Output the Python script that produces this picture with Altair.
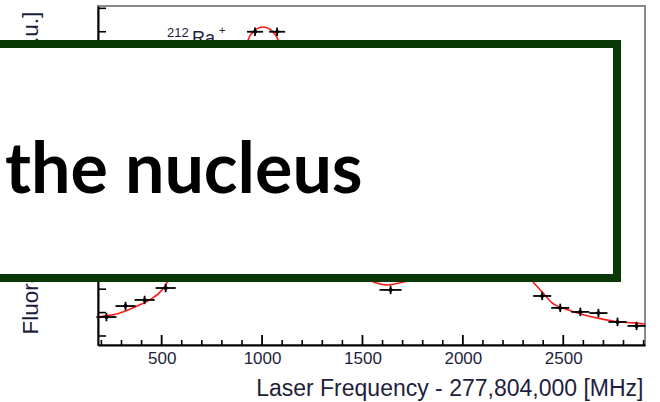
import altair as alt
import pandas as pd

# Measured resonance points (laser frequency offset in MHz, fluorescence in a.u.)
freq = [225, 320, 415, 520, 965, 1075, 1640, 2395, 2485, 2585, 2675, 2770, 2865]
fluor = [0.81, 1.28, 1.54, 2.05, 13.0, 13.0, 1.97, 1.71, 1.20, 1.03, 0.98, 0.60, 0.43]
freq_err = [50, 50, 50, 50, 40, 40, 55, 45, 45, 45, 45, 45, 45]
fluor_err = [0.18, 0.18, 0.18, 0.18, 0.18, 0.18, 0.18, 0.18, 0.18, 0.18, 0.18, 0.18, 0.18]

# Fitted line shape
fit_freq = [183, 190, 275, 355, 440, 505, 525, 600, 700, 800, 900, 930, 970, 1005,
            1040, 1080, 1150, 1250, 1350, 1450, 1555, 1625, 1705, 1800, 1900, 2000,
            2080, 2130, 2180, 2250, 2300, 2350, 2395, 2440, 2525, 2605, 2690, 2775,
            2855, 2907]
fit_fluor = [0.79, 0.81, 0.94, 1.2, 1.54, 2.0, 2.26, 3.0, 4.4, 7.0, 10.8, 12.65, 13.1, 13.2,
             13.1, 12.65, 9.5, 5.6, 3.6, 2.7, 2.31, 2.18, 2.31, 2.5, 3.0, 3.7,
             4.3, 4.5, 4.3, 3.6, 2.9, 2.31, 1.88, 1.45, 1.11, 0.90, 0.73, 0.60,
             0.56, 0.51]

x_major = [500, 1000, 1500, 2000, 2500]
x_minor = [v for v in range(200, 3000, 100) if v % 500 != 0]
y_ticks = list(range(0, 15))

FONT = "Liberation Sans"
TEXT_COLOR = "#1e1e3c"

xs = alt.Scale(domain=[183, 2907], nice=False, zero=False)
ys = alt.Scale(domain=[-0.385, 14.10], nice=False, zero=False)

pts = pd.DataFrame({"f": freq, "v": fluor, "fe": freq_err, "ve": fluor_err})
pts["f_lo"] = pts["f"] - pts["fe"]
pts["f_hi"] = pts["f"] + pts["fe"]
pts["v_lo"] = pts["v"] - pts["ve"]
pts["v_hi"] = pts["v"] + pts["ve"]
fit = pd.DataFrame({"f": fit_freq, "v": fit_fluor})

x_axis = alt.Axis(
    values=x_major, format="d", ticks=False, grid=False, labelFontSize=17, labelFont=FONT,
    labelColor=TEXT_COLOR, labelPadding=5, domainColor="black", domainWidth=2,
    title="Laser Frequency - 277,804,000 [MHz]", titleFont=FONT, titleFontSize=23,
    titleFontWeight="normal", titleColor=TEXT_COLOR, titleX=545, titleY=50,
    titleAlign="right", titleBaseline="alphabetic",
)
y_axis = alt.Axis(
    labels=False, ticks=False, grid=False, domainColor="black", domainWidth=2,
    title="Fluorescence Photon Rate [a.u.]", titleFont=FONT, titleFontSize=22.5,
    titleFontWeight="normal", titleColor=TEXT_COLOR, titleAngle=270,
    titleAlign="left", titleBaseline="alphabetic", titleX=-61, titleY=328,
)

one = pd.DataFrame({"k": [0]})

# inward tick marks
major_ticks = alt.Chart(pd.DataFrame({"f": x_major})).mark_rule(
    color="black", strokeWidth=1.8
).encode(x=alt.X("f:Q", scale=xs, axis=x_axis), y=alt.value(339), y2=alt.value(329))
minor_ticks = alt.Chart(pd.DataFrame({"f": x_minor})).mark_rule(
    color="black", strokeWidth=1.6
).encode(x=alt.X("f:Q", scale=xs), y=alt.value(339), y2=alt.value(334))
y_tick_marks = alt.Chart(pd.DataFrame({"v": y_ticks})).mark_rule(
    color="black", strokeWidth=1.6
).encode(y=alt.Y("v:Q", scale=ys, axis=y_axis), x=alt.value(0), x2=alt.value(8))

curve = alt.Chart(fit).mark_line(color="#ff1a1a", strokeWidth=1.6, interpolate="monotone").encode(
    x=alt.X("f:Q", scale=xs), y=alt.Y("v:Q", scale=ys)
)
xerr = alt.Chart(pts).mark_rule(color="black", strokeWidth=1.8).encode(
    x=alt.X("f_lo:Q", scale=xs), x2="f_hi:Q", y=alt.Y("v:Q", scale=ys)
)
yerr = alt.Chart(pts).mark_rule(color="black", strokeWidth=1.8).encode(
    x=alt.X("f:Q", scale=xs), y=alt.Y("v_lo:Q", scale=ys), y2="v_hi:Q"
)
dots = alt.Chart(pts).mark_point(filled=True, color="black", size=30, shape="diamond", opacity=1).encode(
    x=alt.X("f:Q", scale=xs), y=alt.Y("v:Q", scale=ys)
)

# isotope label 212Ra+
lab = pd.DataFrame({
    "f": [527, 651, 786],
    "v": [12.79, 12.48, 12.9],
    "t": ["212", "Ra", "+"],
    "s": [13, 18, 11],
})
iso = alt.Chart(lab).mark_text(align="left", baseline="alphabetic", font=FONT, color=TEXT_COLOR).encode(
    x=alt.X("f:Q", scale=xs), y=alt.Y("v:Q", scale=ys), text="t:N",
    size=alt.Size("s:Q", scale=None, legend=None),
)

box = alt.Chart(one).mark_rect(fill="white", stroke="#0a3706", strokeWidth=8).encode(
    x=alt.value(-110), x2=alt.value(519), y=alt.value(38), y2=alt.value(272)
)
headline = alt.Chart(one).mark_text(
    text="the nucleus", align="left", baseline="alphabetic", font="Lato",
    fontWeight="bold", fontSize=70, color="black",
).encode(x=alt.value(-93), y=alt.value(187))

chart = alt.layer(
    major_ticks, minor_ticks, y_tick_marks, curve, xerr, yerr, dots, iso, box, headline
).properties(
    width=547, height=339,
    autosize=alt.AutoSizeParams(type="none"),
    padding={"left": 98, "top": 6, "right": 15, "bottom": 57},
    background="white",
).configure_view(stroke="#8a8a8a", strokeWidth=2)

chart.save("out.html", embed_options={"renderer": "svg", "actions": False})
